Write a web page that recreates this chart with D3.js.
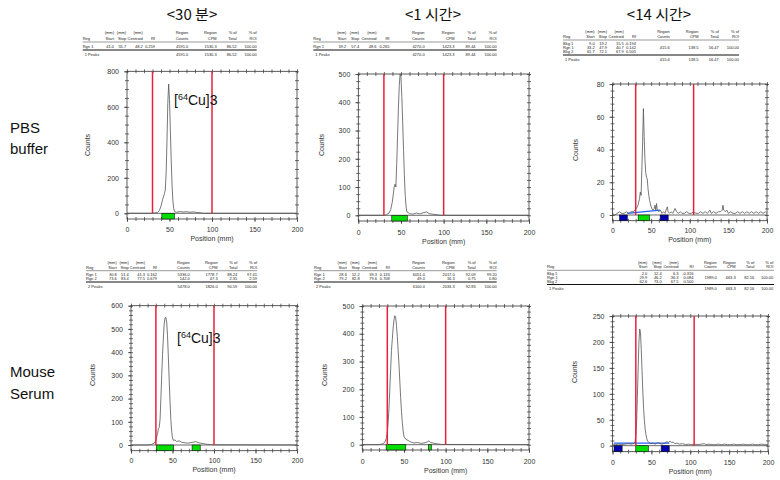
<!DOCTYPE html>
<html><head><meta charset="utf-8">
<script src="https://cdn.jsdelivr.net/npm/d3@7"></script>
<style>body{margin:0;background:#fff} svg{display:block}</style>
</head><body><svg id="c" width="780" height="480"></svg>
<script>
// ---------------- DATA ----------------
const columnTitles = ["<30 분>", "<1 시간>", "<14 시간>"];
const rowLabels = [["PBS", "buffer"], ["Mouse", "Serum"]];
const peakLabel = {pre: "[", sup: "64", main: "Cu]3"};
const xTickValues = [0, 50, 100, 150, 200];
const yTicks30mPBS = [0, 200, 400, 600, 800];
const yTicks1hPBS = [0, 100, 200, 300, 400, 500];
const yTicks14hPBS = [0, 20, 40, 60, 80];
const yTicks30mSerum = [0, 100, 200, 300, 400, 500, 600];
const yTicks1hSerum = [0, 100, 200, 300, 400, 500];
const yTicks14hSerum = [0, 50, 100, 150, 200, 250];

const trace30mPBS = [[0,0],[20,0],[30,0],[33,2],[36,5],[38,15],[40,40],[42,80],[44,110],[45,130],[46,220],[47,400],[48,620],[49,728],[50,640],[51,470],[52,300],[53,160],[54,70],[55,25],[56,10],[58,6],[60,8],[63,10],[66,7],[70,9],[74,6],[78,8],[82,5],[86,3],[90,0],[200,0]];
const trace1hPBS = [[0,0],[31,0],[33,3],[36,8],[38,20],[40,50],[42,100],[43,110],[44,100],[45,180],[46,280],[47,380],[48,460],[49,500],[50,490],[51,420],[52,330],[53,230],[54,140],[55,70],[56,30],[57,12],[60,6],[64,4],[68,8],[72,5],[76,9],[80,12],[83,6],[87,4],[92,2],[97,0],[200,0]];
const trace14hPBS = [[0,1],[3,0],[6,1],[9,2],[12,1],[15,1],[18,2],[21,1],[24,2],[27,2],[29,3],[31,4],[33,6],[35,10],[36,14],[37,12],[38,28],[39,45],[40,65],[41,48],[42,34],[43,26],[44,23],[45,22],[46,16],[47,12],[48,9],[50,5],[52,3],[54,4],[55,6],[56,3],[57,7],[58,3],[60,2],[62,3],[64,1],[66,2],[68,1],[70,4],[71,5],[72,2],[74,1],[76,2],[78,1],[80,3],[81,4],[83,2],[85,1],[88,2],[90,1],[93,1],[96,2],[99,1],[102,1],[105,2],[108,1],[111,1],[114,2],[117,1],[120,2],[123,1],[126,3],[128,1],[131,2],[134,1],[137,2],[140,2],[142,3],[143,6],[144,3],[146,2],[148,3],[150,1],[153,2],[156,1],[159,1],[162,2],[165,1],[168,2],[171,1],[174,2],[177,1],[180,2],[183,1],[186,2],[189,1],[192,2],[195,1],[198,2],[200,1]];
const trace30mSerum = [[0,0],[20,0],[25,3],[28,8],[30,20],[32,50],[33,70],[34,75],[35,110],[36,200],[37,300],[38,390],[39,460],[40,520],[41,548],[42,550],[43,530],[44,470],[45,380],[46,280],[47,190],[48,110],[49,60],[50,30],[51,20],[53,22],[55,15],[58,18],[61,12],[64,10],[68,8],[72,10],[75,12],[78,15],[81,10],[84,8],[88,5],[92,3],[96,2],[100,1],[110,1],[200,0]];
const trace1hSerum = [[0,0],[20,0],[24,3],[27,8],[29,25],[30,45],[31,80],[32,130],[33,200],[34,270],[35,340],[36,380],[37,420],[38,450],[39,465],[40,460],[41,430],[42,390],[43,340],[44,290],[45,230],[46,170],[47,120],[48,80],[49,50],[50,30],[52,20],[55,15],[58,10],[62,6],[66,8],[70,5],[74,6],[78,10],[80,14],[82,8],[86,5],[90,3],[95,1],[200,0]];
const trace14hSerum = [[0,3],[4,2],[8,3],[12,2],[16,3],[20,4],[24,3],[27,4],[29,8],[30,20],[31,45],[32,95],[33,150],[34,200],[35,225],[36,218],[37,185],[38,145],[39,105],[40,72],[41,48],[42,32],[43,22],[44,14],[45,9],[47,6],[49,4],[52,5],[55,3],[58,6],[61,4],[64,3],[67,5],[70,8],[72,6],[74,9],[76,6],[78,7],[80,4],[83,5],[86,3],[90,4],[94,2],[98,3],[102,2],[106,3],[110,2],[114,3],[118,4],[120,2],[124,3],[128,2],[132,2],[136,3],[140,2],[144,3],[148,2],[152,2],[156,3],[160,2],[164,2],[168,3],[172,2],[176,2],[180,3],[184,2],[188,2],[192,3],[196,2],[200,2]];

const markers30mPBS = [30, 100], markers1hPBS = [30, 100], markers14hPBS = [30, 105];
const markers30mSerum = [30, 100], markers1hSerum = [30, 100], markers14hSerum = [30, 105];

const regions30mPBS = [["Rgn", 41.0, 55.7]];
const regions1hPBS = [["Rgn", 39.2, 57.4]];
const regions14hPBS = [["Bkg", 9.0, 19.2], ["Rgn", 33.2, 47.9], ["Bkg", 61.7, 72.1]];
const regions30mSerum = [["Rgn", 30.8, 51.4], ["Rgn", 73.6, 83.4]];
const regions1hSerum = [["Rgn", 28.6, 52.2], ["Rgn", 79.2, 82.8]];
const regions14hSerum = [["Bkg", 2.0, 12.4], ["Rgn", 29.9, 46.2], ["Bkg", 62.6, 73.0]];
const background14hPBS = [19.2, 1, 61.7, 3];
const background14hSerum = [2.0, 5, 73.0, 5];

const tableHeader1 = ["", "(mm)", "(mm)", "(mm)", "", "Region", "Region", "% of", "% of"];
const tableHeader2 = ["Reg", "Start", "Stop", "Centroid", "Rf", "Counts", "CPM", "Total", "ROI"];
const table30mPBS = [["Rgn 1","41.0","55.7","48.2","0.259","4591.0","1530.3","86.52","100.00"]];
const total30mPBS = ["1 Peaks","","","","","4591.0","1530.3","86.52","100.00"];
const table1hPBS = [["Rgn 1","39.2","57.4","48.6","0.265","4270.0","1423.3","89.44","100.00"]];
const total1hPBS = ["1 Peaks","","","","","4270.0","1423.3","89.44","100.00"];
const table14hPBS = [["Bkg 1","9.0","19.2","15.5","-0.194","","","",""],["Rgn 1","33.2","47.9","40.7","0.142","415.6","138.5","56.47","100.00"],["Bkg 2","61.7","72.1","67.9","0.505","","","",""]];
const total14hPBS = ["1 Peaks","","","","","415.6","138.5","56.47","100.00"];
const table30mSerum = [["Rgn 1","30.8","51.4","41.3","0.162","5336.0","1778.7","88.24","97.41"],["Rgn 2","73.6","83.4","77.5","0.679","142.0","47.3","2.35","2.59"]];
const total30mSerum = ["2 Peaks","","","","","5478.0","1826.0","90.59","100.00"];
const table1hSerum = [["Rgn 1","28.6","52.2","39.3","0.133","6051.0","2017.0","92.09","99.20"],["Rgn 2","79.2","82.8","79.6","0.708","49.0","16.3","0.75","0.80"]];
const total1hSerum = ["2 Peaks","","","","","6100.0","2033.3","92.83","100.00"];
const table14hSerum = [["Bkg 1","2.0","12.4","6.3","-0.316","","","",""],["Rgn 1","29.9","46.2","36.3","0.084","1989.0","663.3","82.16","100.00"],["Bkg 2","62.6","73.0","67.5","0.500","","","",""]];
const total14hSerum = ["1 Peaks","","","","","1989.0","663.3","82.16","100.00"];

// ---------------- LAYOUT ----------------
const svg = d3.select("#c");
const SANS = "'Liberation Sans', Arial, sans-serif";
const KR = "'Noto Sans CJK KR', 'Noto Sans', sans-serif";

const titleX = [192, 433, 659];
svg.selectAll("text.title").data(columnTitles).join("text").attr("class","title")
  .attr("x", (d,i) => titleX[i]).attr("y", 20).attr("text-anchor", "middle")
  .style("font-family", KR).style("font-size", "15px").style("fill", "#111").text(d => d);

const rowLabelY = [[133, 154], [377, 399]];
rowLabels.forEach((lines, r) => {
  lines.forEach((t, k) => {
    svg.append("text").attr("x", 10).attr("y", rowLabelY[r][k])
      .style("font-family", SANS).style("font-size", "15px").style("fill", "#111").text(t);
  });
});

const panels = [
  {trace: trace30mPBS, yTicks: yTicks30mPBS, markers: markers30mPBS, regions: regions30mPBS, bg: null,
   x0:127, x1:297, yZero:213.3, yTop:71.3, yBottom:219, minor:50, countsX:88, countsY:145, posY:239, tickY:231, label:[174,105]},
  {trace: trace1hPBS, yTicks: yTicks1hPBS, markers: markers1hPBS, regions: regions1hPBS, bg: null,
   x0:358.3, x1:529, yZero:215.3, yTop:74, yBottom:221, minor:25, countsX:322, countsY:145, posY:242, tickY:234},
  {trace: trace14hPBS, yTicks: yTicks14hPBS, markers: markers14hPBS, regions: regions14hPBS, bg: background14hPBS,
   x0:612.5, x1:767, yZero:215, yTop:84, yBottom:220.7, minor:4, countsX:576, countsY:150, posY:240, tickY:232},
  {trace: trace30mSerum, yTicks: yTicks30mSerum, markers: markers30mSerum, regions: regions30mSerum, bg: null,
   x0:131, x1:297, yZero:445, yTop:305.7, yBottom:450.7, minor:20, countsX:93, countsY:375, posY:470, tickY:461.7, label:[177,343]},
  {trace: trace1hSerum, yTicks: yTicks1hSerum, markers: markers1hSerum, regions: regions1hSerum, bg: null,
   x0:362.3, x1:529, yZero:444.7, yTop:306, yBottom:450, minor:20, countsX:325, countsY:375, posY:471, tickY:462.7},
  {trace: trace14hSerum, yTicks: yTicks14hSerum, markers: markers14hSerum, regions: regions14hSerum, bg: background14hSerum,
   x0:612.5, x1:768, yZero:445.7, yTop:316, yBottom:451.7, minor:10, countsX:575, countsY:372, posY:471.7, tickY:464}
];

panels.forEach(p => {
  const ymax = p.yTicks[p.yTicks.length - 1];
  const x = d3.scaleLinear().domain([0, 200]).range([p.x0, p.x1]);
  const y = d3.scaleLinear().domain([0, ymax]).range([p.yZero, p.yTop]);
  const g = svg.append("g");

  g.append("rect").attr("x", p.x0).attr("y", p.yTop).attr("width", p.x1 - p.x0).attr("height", p.yBottom - p.yTop)
    .attr("fill", "none").attr("stroke", "#333").attr("stroke-width", 0.8);

  const minorX = d3.range(0, 201, 10);
  const minorY = d3.range(0, ymax + 0.001, p.minor);
  function tickAxis(axis, tr) {
    const a = g.append("g").attr("transform", tr).call(axis);
    a.select(".domain").remove();
    a.selectAll("line").attr("stroke", "#333").attr("stroke-width", 0.7);
    return a;
  }
  tickAxis(d3.axisBottom(x).tickValues(minorX).tickSize(2).tickFormat(""), `translate(0,${p.yBottom})`);
  tickAxis(d3.axisTop(x).tickValues(minorX).tickSize(2).tickFormat(""), `translate(0,${p.yBottom})`);
  const bx = tickAxis(d3.axisBottom(x).tickValues(xTickValues).tickSize(3).tickPadding(p.tickY - p.yBottom - 6.5), `translate(0,${p.yBottom})`);
  bx.selectAll("text").style("font-family", SANS).style("font-size", "7px").style("fill", "#333");
  tickAxis(d3.axisTop(x).tickValues(minorX).tickSize(2).tickFormat(""), `translate(0,${p.yTop})`);
  tickAxis(d3.axisBottom(x).tickValues(minorX).tickSize(2).tickFormat(""), `translate(0,${p.yTop})`);
  tickAxis(d3.axisLeft(y).tickValues(minorY).tickSize(2).tickFormat(""), `translate(${p.x0},0)`);
  tickAxis(d3.axisRight(y).tickValues(minorY).tickSize(2).tickFormat(""), `translate(${p.x0},0)`);
  const ly = tickAxis(d3.axisLeft(y).tickValues(p.yTicks).tickSize(3).tickPadding(5), `translate(${p.x0},0)`);
  ly.selectAll("text").style("font-family", SANS).style("font-size", "7px").style("fill", "#333");
  tickAxis(d3.axisLeft(y).tickValues(minorY).tickSize(2).tickFormat(""), `translate(${p.x1},0)`);
  tickAxis(d3.axisRight(y).tickValues(minorY).tickSize(2).tickFormat(""), `translate(${p.x1},0)`);

  g.append("line").attr("x1", p.x0).attr("x2", p.x1).attr("y1", y(0)).attr("y2", y(0))
    .attr("stroke", "#444").attr("stroke-width", 0.8);

  g.selectAll("rect.reg").data(p.regions).join("rect").attr("class", "reg")
    .attr("x", d => x(d[1])).attr("width", d => x(d[2]) - x(d[1]))
    .attr("y", y(0)).attr("height", p.yBottom - y(0))
    .attr("fill", d => d[0] === "Rgn" ? "#00dd00" : "#0000b0")
    .attr("stroke", "#111").attr("stroke-width", 0.6);

  if (p.bg) {
    g.append("line").attr("x1", x(p.bg[0])).attr("y1", y(p.bg[1])).attr("x2", x(p.bg[2])).attr("y2", y(p.bg[3]))
      .attr("stroke", "#2060ff").attr("stroke-width", 1.2);
  }

  g.append("path").datum(p.trace)
    .attr("d", d3.line().x(d => x(d[0])).y(d => y(d[1])))
    .attr("fill", "none").attr("stroke", "#555").attr("stroke-width", 0.8);

  g.selectAll("line.mk").data(p.markers).join("line").attr("class", "mk")
    .attr("x1", d => x(d)).attr("x2", d => x(d)).attr("y1", p.yTop).attr("y2", y(0))
    .attr("stroke", "#e8203a").attr("stroke-width", 1.5);

  g.append("text").attr("transform", `translate(${p.countsX},${p.countsY}) rotate(-90)`)
    .attr("text-anchor", "middle").attr("dy", "0.35em")
    .style("font-family", SANS).style("font-size", "7px").style("fill", "#333").text("Counts");
  g.append("text").attr("x", (p.x0 + p.x1) / 2).attr("y", p.posY).attr("dy", "0.35em").attr("text-anchor", "middle")
    .style("font-family", SANS).style("font-size", "7px").style("fill", "#333").text("Position (mm)");

  if (p.label) {
    const t = g.append("text").attr("x", p.label[0]).attr("y", p.label[1])
      .style("font-family", SANS).style("font-size", "14px").style("fill", "#111");
    t.append("tspan").text(peakLabel.pre);
    t.append("tspan").attr("dy", -5).style("font-size", "9px").text(peakLabel.sup);
    t.append("tspan").attr("dy", 5).text(peakLabel.main);
  }
});

// ---------------- TABLES ----------------
const colFrac = [0, 0.18, 0.25, 0.345, 0.415, 0.607, 0.77, 0.885, 1.0];
const tables = [
  {rows: table30mPBS, total: total30mPBS, left: 82.7, right: 256.7, h1: 33, h2: 38.3, l1: 42, ys: [46.3], l2: 50, yt: 54.3},
  {rows: table1hPBS, total: total1hPBS, left: 313.3, right: 496.7, h1: 33, h2: 38.3, l1: 42, ys: [46.3], l2: 50, yt: 54.3},
  {rows: table14hPBS, total: total14hPBS, left: 563, right: 739, h1: 31.5, h2: 36.5, l1: 40, ys: [43.5, 47.5, 51.5], l2: 55, yt: 59.3},
  {rows: table30mSerum, total: total30mSerum, left: 86, right: 257, h1: 262.5, h2: 267.3, l1: 270.7, ys: [274.3, 278.5], l2: 282, yt: 286.5},
  {rows: table1hSerum, total: total1hSerum, left: 314, right: 496.7, h1: 262.5, h2: 267.3, l1: 270.7, ys: [274.3, 278.5], l2: 282, yt: 286.5},
  {rows: table14hSerum, total: total14hSerum, left: 547, right: 774, h1: 262.5, h2: 267, l1: 270.3, ys: [273.8, 277.6, 281.4], l2: 284.5, yt: 288.5,
   cols: [547, 647.3, 661.7, 678.5, 693.5, 716.7, 735.7, 754.3, 773.3], size: 4}
];
tables.forEach(t => {
  const g = svg.append("g").style("font-family", SANS).style("font-size", (t.size || 4) + "px").style("fill", "#222");
  const cx = i => t.cols ? t.cols[i] : t.left + colFrac[i] * (t.right - t.left);
  function row(cells, yc, indent) {
    cells.forEach((c, i) => {
      if (!c) return;
      g.append("text").attr("x", i === 0 ? cx(0) + (indent || 0) : cx(i)).attr("y", yc).attr("dy", "0.35em")
        .attr("text-anchor", i === 0 ? "start" : "end").text(c);
    });
  }
  row(tableHeader1, t.h1); row(tableHeader2, t.h2);
  g.append("line").attr("x1", t.left).attr("x2", t.right).attr("y1", t.l1).attr("y2", t.l1).attr("stroke", "#333").attr("stroke-width", 0.5);
  t.rows.forEach((r, k) => row(r, t.ys[k]));
  g.append("line").attr("x1", t.left).attr("x2", t.right).attr("y1", t.l2).attr("y2", t.l2).attr("stroke", "#111").attr("stroke-width", 1.1);
  row(t.total, t.yt, 2);
});
</script></body></html>
